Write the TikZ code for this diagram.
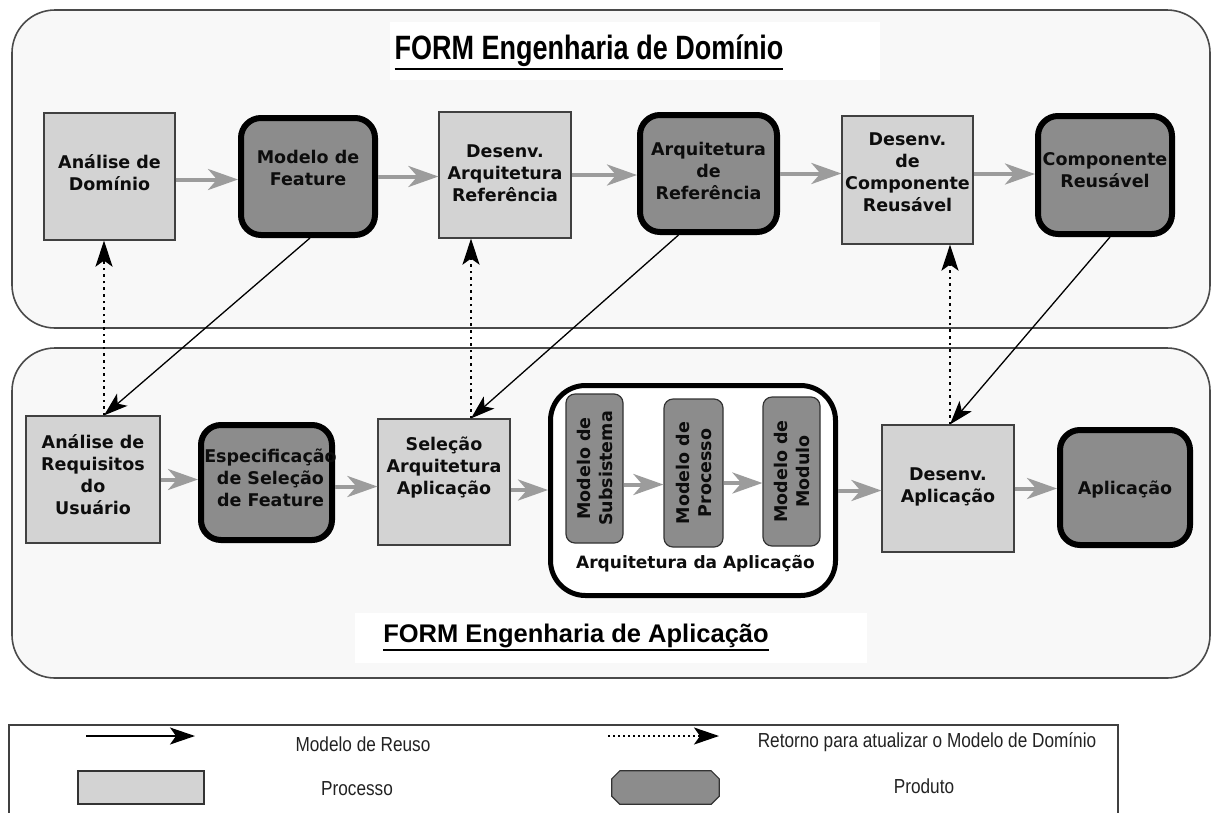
\documentclass[tikz,border=0pt]{standalone}
\usepackage{graphicx}
\usepackage{fontspec}
\setmainfont{Liberation Sans}
\newfontfamily\dvs{DejaVu Sans}
\usetikzlibrary{arrows.meta}

\definecolor{panelfill}{HTML}{F8F8F8}
\definecolor{panelline}{HTML}{4A4A4A}
\definecolor{procfill}{HTML}{D3D3D3}
\definecolor{prodfill}{HTML}{8C8C8C}
\definecolor{flowgray}{HTML}{9C9C9C}
\definecolor{legtext}{HTML}{222222}

\begin{document}
\begin{tikzpicture}[x=1pt,y=-1pt,
  panel/.style={draw=panelline, fill=panelfill, line width=1.6pt, rounded corners=43pt},
  lab/.style={font=\dvs\bfseries\fontsize{17.5}{22}\selectfont, align=center, text=black!95, inner sep=0pt},
  procbox/.style={draw=black!75, fill=procfill, line width=1.2pt, inner sep=0pt},
  prodbox/.style={draw=black, fill=prodfill, line width=6pt, rounded corners=20pt, inner sep=0pt},
  subbox/.style={lab, draw=black!80, fill=prodfill, line width=1.2pt, rounded corners=9pt, rotate=90},
  txt/.style args={#1:#2}{label={[lab, yshift=#1]center:{#2}}},
  flow/.style={draw=flowgray, line width=4pt, -{Stealth[length=30pt,width=21pt,inset=9pt]}},
  reuse/.style={draw=black, line width=1.3pt, -{Stealth[length=24pt,width=16pt,inset=6pt]}},
  feedback/.style={draw=black, line width=2.6pt, dash pattern=on 2.6pt off 4pt,
    -{Stealth[length=26pt,width=17pt,inset=6pt]}},
  legtxt/.style={font=\fontsize{17.2}{20}\selectfont, text=legtext, anchor=base, inner sep=0pt},
  titletxt/.style={font=\bfseries, anchor=base, inner sep=0pt, text=black}
]
\useasboundingbox (0,0) rectangle (1212,812);

% ---------- the two process panels ----------
\draw[panel] (12,10) rectangle (1210,328);
\draw[panel] (12,348) rectangle (1210,678);

% ---------- panel titles ----------
\fill[white] (390,22) rectangle (880,80);
\node[titletxt, font=\bfseries\fontsize{27}{30}\selectfont] (ttop) at (589,59)
  {\scalebox{1}[1.25]{FORM Engenharia de Domínio}};
\draw[line width=2.6pt] ([yshift=-10pt]ttop.base west) -- ([yshift=-10pt]ttop.base east);

\fill[white] (355,613) rectangle (867,663);
\node[titletxt, font=\bfseries\fontsize{25.5}{30}\selectfont] (tbot) at (576,642)
  {FORM Engenharia de Aplicação};
\draw[line width=2.6pt] ([yshift=-8pt]tbot.base west) -- ([yshift=-8pt]tbot.base east);

% ---------- domain engineering row ----------
\node[procbox, minimum width=131pt, minimum height=127pt, txt={4pt:Análise de\\Domínio}] (adom) at (109.5,176.5) {};
\node[prodbox, minimum width=134pt, minimum height=117pt, txt={9pt:Modelo de\\Feature}] (mfeat) at (308,176.5) {};
\node[procbox, minimum width=132pt, minimum height=126pt, txt={2pt:Desenv.\\Arquitetura\\Referência}] (dref) at (505,175) {};
\node[prodbox, minimum width=137pt, minimum height=117pt, txt={3pt:Arquitetura\\de\\Referência}] (aref) at (708.5,173.5) {};
\node[procbox, minimum width=131pt, minimum height=128pt, txt={8pt:Desenv.\\de\\Componente\\Reusável}] (dcomp) at (907.5,180) {};
\node[prodbox, minimum width=134pt, minimum height=118pt, txt={5pt:Componente\\Reusável}] (comp) at (1105,175) {};

% ---------- application engineering row ----------
\node[procbox, minimum width=134pt, minimum height=127pt, txt={5pt:Análise de\\Requisitos\\do\\Usuário}] (areq) at (93,479.5) {};
\node[prodbox, minimum width=131pt, minimum height=115pt] (espec) at (266.5,482.5) {};
\begin{scope}
  % the first word is wider than the box and is cut off at its border
  \clip ([shift={(-3pt,-3pt)}]espec.south west) rectangle ([shift={(3pt,3pt)}]espec.north east);
  \node[lab] (espec-t) at ([xshift=4pt,yshift=5pt]espec.center) {Especificação\\de Seleção\\de Feature};
\end{scope}
\node[procbox, minimum width=132pt, minimum height=126pt, txt={14pt:Seleção\\Arquitetura\\Aplicação}] (sarq) at (444,482) {};

% application architecture container with its three models
\node[draw=black, fill=white, line width=5pt, rounded corners=35pt,
      minimum width=285pt, minimum height=210pt] (arqapp) at (693,490.5) {};
\node[subbox, minimum width=149pt, minimum height=57pt] (msub) at (594.5,468.5) {Modelo de\\Subsistema};
\node[subbox, minimum width=148pt, minimum height=59pt] (mproc) at (693.5,473) {Modelo de\\Processo};
\node[subbox, minimum width=149pt, minimum height=57pt] (mmod) at (791.5,471.5) {Modelo de\\Modulo};
\node[lab, font=\dvs\bfseries\fontsize{17}{20}\selectfont, fill=white,
      minimum width=265pt, minimum height=23pt] (arqlbl) at (695.5,563.5) {Arquitetura da Aplicação};

\node[procbox, minimum width=132pt, minimum height=127pt, txt={2pt:Desenv.\\Aplicação}] (dapp) at (948,488.5) {};
\node[prodbox, minimum width=130pt, minimum height=115pt, txt={-2pt:Aplicação}] (app) at (1125,487.5) {};

% ---------- process flow (grey arrows) ----------
\draw[flow] ([yshift=-3pt]adom.east) -- ([yshift=-3pt]adom.east -| mfeat.west);
\draw[flow] (mfeat.east) -- (mfeat.east -| dref.west);
\draw[flow] (dref.east) -- (dref.east -| aref.west);
\draw[flow] (aref.east) -- (aref.east -| dcomp.west);
\draw[flow] ([yshift=6pt]dcomp.east) -- ([yshift=6pt]dcomp.east -| comp.west);

\draw[flow] (areq.east) -- (areq.east -| espec.west);
\draw[flow] ([yshift=-4pt]espec.east) -- ([yshift=-4pt]espec.east -| sarq.west);
\draw[flow] ([yshift=-8pt]sarq.east) -- ([yshift=-8pt]sarq.east -| arqapp.west);
% the model boxes are turned by 90 degrees: their south side faces right
\draw[flow] ([yshift=-16pt]msub.south) -- ([yshift=-16pt]msub.south -| mproc.north);
\draw[flow] ([yshift=-10pt]mproc.south) -- ([yshift=-10pt]mproc.south -| mmod.north);
\draw[flow] (arqapp.east) -- (arqapp.east -| dapp.west);
\draw[flow] (dapp.east) -- (dapp.east -| app.west);

% ---------- reuse of domain assets (solid arrows) ----------
\draw[reuse] ([xshift=2pt]mfeat.south) -- ([xshift=11pt]areq.north);
\draw[reuse] ([xshift=-30pt]aref.south) -- ([xshift=27pt]sarq.north);
\draw[reuse] ([xshift=5pt]comp.south) -- ([xshift=2pt]dapp.north);

% ---------- feedback to the domain model (dotted arrows) ----------
\draw[feedback] ([xshift=11pt]areq.north) -- ([xshift=11pt]areq.north |- adom.south);
\draw[feedback] ([xshift=27pt]sarq.north) -- ([xshift=27pt]sarq.north |- dref.south);
\draw[feedback] ([xshift=2pt]dapp.north) -- ([xshift=2pt]dapp.north |- dcomp.south);

% ---------- legend ----------
\draw[draw=black!75, line width=1.2pt] (9,725) rectangle (1118,840);
\coordinate (lr1) at (86,736);
\coordinate (lr2) at (195,736);
\draw[draw=black, line width=1.3pt, -{Stealth[length=25pt,width=17pt,inset=6pt]}] (lr1) -- (lr2);
\node[legtxt] (lreuse) at (363,751) {\scalebox{1}[1.18]{Modelo de Reuso}};

\coordinate (lf1) at (608,736);
\coordinate (lf2) at (719,736);
\draw[draw=black, line width=2pt, dash pattern=on 2pt off 3pt, -{Stealth[length=25pt,width=17pt,inset=6pt]}] (lf1) -- (lf2);
\node[legtxt] (lret) at (927,747) {\scalebox{1}[1.18]{Retorno para atualizar o Modelo de Domínio}};

\node[draw=black!80, fill=procfill, line width=1.2pt, minimum width=126pt, minimum height=33pt, inner sep=0pt] (lproc) at (141,787.5) {};
\node[legtxt] (lproct) at (357,795) {\scalebox{1}[1.18]{Processo}};

% product symbol: a rectangle with cut corners
\node[minimum width=107pt, minimum height=33pt, inner sep=0pt] (lprod) at (665.5,787.5) {};
\draw[draw=black!80, fill=prodfill, line width=1.2pt]
  ([xshift=8pt]lprod.north west) -- ([xshift=-8pt]lprod.north east)
  -- ([yshift=-8pt]lprod.north east) -- ([yshift=8pt]lprod.south east)
  -- ([xshift=-8pt]lprod.south east) -- ([xshift=8pt]lprod.south west)
  -- ([yshift=8pt]lprod.south west) -- ([yshift=-8pt]lprod.north west) -- cycle;
\node[legtxt] (lprodt) at (924,793) {\scalebox{1}[1.18]{Produto}};

\end{tikzpicture}
\end{document}
